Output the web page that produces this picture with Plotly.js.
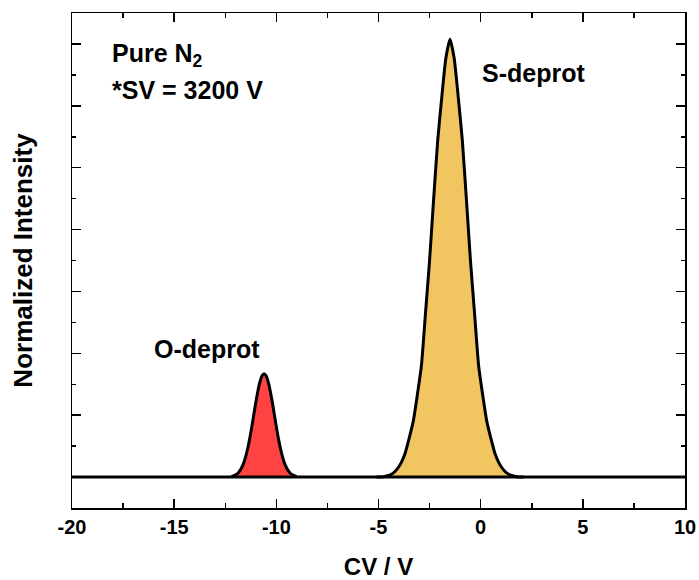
<!DOCTYPE html>
<html>
<head>
<meta charset="utf-8">
<script src="https://cdn.plot.ly/plotly-3.0.1.min.js"></script>
<style>html,body{margin:0;padding:0;background:#fff;}</style>
</head>
<body>
<div id="chart" style="width:699px;height:580px;"></div>
<script>
// O-deprot peak (CV in V, normalized intensity)
const oCV = [-12.2,-12.1,-12.0,-11.9,-11.8,-11.7,-11.6,-11.5,-11.4,-11.3,-11.2,-11.1,-11.0,-10.9,-10.8,-10.7,-10.6,-10.5,-10.4,-10.3,-10.2,-10.1,-10.0,-9.9,-9.8,-9.7,-9.6,-9.5,-9.4,-9.3,-9.2,-9.1,-9.0];
const oInt = [0.02,0.04,0.07,0.11,0.19,0.30,0.45,0.66,0.93,1.25,1.63,2.03,2.43,2.79,3.08,3.27,3.34,3.27,3.08,2.79,2.43,2.03,1.63,1.25,0.93,0.66,0.45,0.30,0.19,0.11,0.07,0.04,0.02];
// S-deprot peak
const sCV = [-5.1,-4.9,-4.7,-4.5,-4.3,-4.1,-3.9,-3.7,-3.5,-3.3,-3.1,-2.9,-2.7,-2.5,-2.3,-2.1,-1.9,-1.7,-1.5,-1.3,-1.1,-0.9,-0.7,-0.5,-0.3,-0.1,0.1,0.3,0.5,0.7,0.9,1.1,1.3,1.5,1.7,1.9,2.1];
const sInt = [0,0,0.02,0.05,0.12,0.25,0.45,0.76,1.25,1.8,2.65,3.6,5.3,7.0,9.0,10.9,12.3,13.55,14.15,13.55,12.3,10.9,9.0,7.0,5.3,3.6,2.65,1.8,1.25,0.76,0.45,0.25,0.12,0.05,0.02,0,0];
// baseline across the scan
const baseCV = [-20, 10];
const baseInt = [0, 0];
// axis ticks
const xTickVals = [-20,-15,-10,-5,0,5,10];
const xTickLabels = ['-20','-15','-10','-5','0','5','10'];
// labels
const labelTexts = ['Pure N<sub>2</sub>', '*SV = 3200 V', 'S-deprot', 'O-deprot'];
const labelCV = [-18.15, -18.15, -0.05, -16.1];
const labelInt = [13.65, 12.5, 13.05, 4.15];

const FONT = 'Liberation Sans, Arial, Helvetica, sans-serif';

const traces = [
  {x: oCV, y: oInt, type: 'scatter', mode: 'lines', fill: 'tozeroy', fillcolor: '#FF4242',
   line: {color: '#000', width: 3, shape: 'spline', smoothing: 0.6}, hoverinfo: 'skip'},
  {x: sCV, y: sInt, type: 'scatter', mode: 'lines', fill: 'tozeroy', fillcolor: '#F1C661',
   line: {color: '#000', width: 3, shape: 'spline', smoothing: 0.6}, hoverinfo: 'skip'},
  {x: baseCV, y: baseInt, type: 'scatter', mode: 'lines', line: {color: '#000', width: 3}, hoverinfo: 'skip'}
];

const annotations = labelTexts.map((t, i) => ({
  x: labelCV[i], y: labelInt[i], xref: 'x', yref: 'y', text: t, showarrow: false,
  xanchor: 'left', yanchor: 'middle',
  font: {family: FONT, size: 25, color: '#000', weight: 'bold'}
}));

const layout = {
  width: 699, height: 580,
  margin: {l: 72, r: 14, t: 13, b: 72},
  paper_bgcolor: '#fff', plot_bgcolor: '#fff',
  showlegend: false,
  font: {family: FONT, color: '#000'},
  xaxis: {
    range: [-20, 10], tickmode: 'array', tickvals: xTickVals, ticktext: xTickLabels,
    ticks: 'inside', ticklen: 9, tickwidth: 1.5, tickcolor: '#000',
    minor: {tick0: -20, dtick: 2.5, ticks: 'inside', ticklen: 5, tickwidth: 1.5, tickcolor: '#000', showgrid: false},
    showline: true, linewidth: 1.5, linecolor: '#000', mirror: 'ticks',
    showgrid: false, zeroline: false,
    tickfont: {family: FONT, size: 20, color: '#000', weight: 'bold'},
    title: {text: 'CV / V', standoff: 22, font: {family: FONT, size: 24, color: '#000', weight: 'bold'}}
  },
  yaxis: {
    range: [-1, 15], tick0: 0, dtick: 2, showticklabels: false,
    ticks: 'inside', ticklen: 9, tickwidth: 1.5, tickcolor: '#000',
    minor: {tick0: 0, dtick: 1, ticks: 'inside', ticklen: 4, tickwidth: 1.5, tickcolor: '#000', showgrid: false},
    showline: true, linewidth: 1.5, linecolor: '#000', mirror: 'ticks',
    showgrid: false, zeroline: false,
    title: {text: 'Normalized Intensity', standoff: 30, font: {family: FONT, size: 26, color: '#000', weight: 'bold'}}
  },
  annotations: annotations
};

Plotly.newPlot('chart', traces, layout, {displayModeBar: false, staticPlot: true});
</script>
</body>
</html>
